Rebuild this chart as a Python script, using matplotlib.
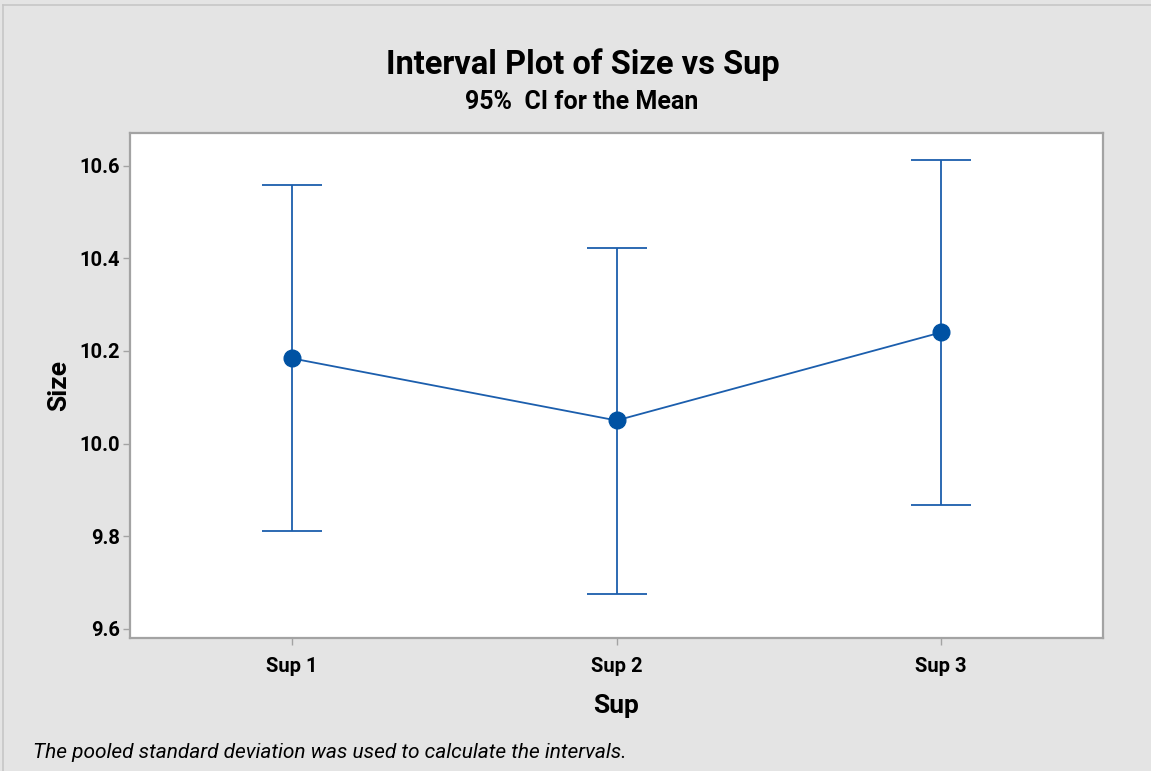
import matplotlib
matplotlib.use("Agg")
import matplotlib.pyplot as plt
from matplotlib.lines import Line2D

plt.rcParams['font.family'] = ['Roboto', 'DejaVu Sans']

# Interval data: group means with 95% confidence limits
groups = ["Sup 1", "Sup 2", "Sup 3"]
means = [10.184, 10.050, 10.240]
ci_lower = [9.811, 9.676, 9.868]
ci_upper = [10.558, 10.422, 10.613]
yticks = [9.6, 9.8, 10.0, 10.2, 10.4, 10.6]

W, H, DPI = 1151, 771, 100
fig = plt.figure(figsize=(W / DPI, H / DPI), dpi=DPI, facecolor="#E4E4E4")

# thin frame line around the graph region
fig.add_artist(Line2D([3 / W, 3 / W], [0, 1 - 5 / H], transform=fig.transFigure,
                      color="#C6C6C6", lw=1.2))
fig.add_artist(Line2D([3 / W, 1], [1 - 5 / H, 1 - 5 / H], transform=fig.transFigure,
                      color="#C6C6C6", lw=1.2))

ax = fig.add_axes([130 / W, 133.3 / H, (1103 - 130) / W, (637.7 - 133.3) / H])
ax.set_facecolor("white")

x = list(range(1, len(groups) + 1))
yerr = [[m - lo for m, lo in zip(means, ci_lower)],
        [hi - m for m, hi in zip(means, ci_upper)]]

line_col = "#1B5EAD"
ax.errorbar(x, means, yerr=yerr, fmt="none", ecolor=line_col, elinewidth=1.3,
            capsize=21.6, capthick=1.3, zorder=2)
ax.plot(x, means, color=line_col, lw=1.3, zorder=3)
ax.plot(x, means, "o", color="#0052A3", markersize=12, zorder=4)

ax.set_xlim(0.5, 3.5)
ax.set_ylim(9.581, 10.670)
ax.set_xticks(x)
ax.set_xticklabels(groups)
ax.set_yticks(yticks)
ax.set_yticklabels([f"{v:.1f}" for v in yticks])

for s in ax.spines.values():
    s.set_color("#A3A3A3")
    s.set_linewidth(1.6)

ax.tick_params(axis="both", direction="out", length=5, width=1, color="#A3A3A3",
               labelsize=14.5, labelcolor="black")
for lab in ax.get_xticklabels() + ax.get_yticklabels():
    lab.set_fontweight("bold")
ax.tick_params(axis="x", pad=9)
ax.tick_params(axis="y", pad=2)

ax.set_xlabel("Sup", fontsize=19, fontweight="bold", labelpad=13)
ax.set_ylabel("Size", fontsize=19, fontweight="bold", labelpad=6)

fig.text(583 / W, 1 - 65 / H, "Interval Plot of Size vs Sup", ha="center", va="center",
         fontsize=23.5, fontweight="bold")
fig.text(582 / W, 1 - 102 / H, "95%  CI for the Mean", ha="center", va="center",
         fontsize=18, fontweight="bold")
fig.text(33 / W, 1 - 752 / H,
         "The pooled standard deviation was used to calculate the intervals.",
         ha="left", va="center", fontsize=15, fontstyle="italic")

fig.savefig("out.png", dpi=DPI, facecolor=fig.get_facecolor())
